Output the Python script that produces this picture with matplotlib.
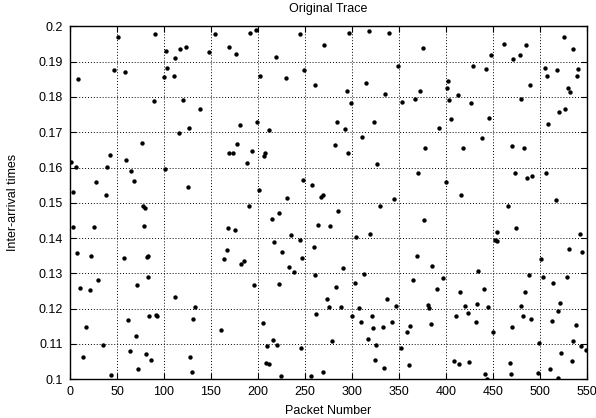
import matplotlib
matplotlib.use("Agg")
import matplotlib.pyplot as plt
import numpy as np
from matplotlib.ticker import FuncFormatter

plt.rcParams['font.family'] = ['Liberation Sans', 'DejaVu Sans']

# packet number / inter-arrival time
pkt = [
    51.2, 90.5, 102, 117, 123, 112, 103, 46.6, 58.7, 8.8, 100, 110.6, 89.4, 120.5,
    126.5, 115.5, 76.7, 42.8, 59.7, 0.7, 6.7, 39.6, 101.4, 65.4, 27.6, 68.6, 125.4,
    3.5, 38.5,
    77.4, 79.5, 2.8, 25.4, 78.4, 7.8, 22.6, 57.2, 82.7, 81.6, 83.4, 71.4, 29.7, 10.6,
    21.6, 111.7, 132.5, 61.8, 84.5, 91.5, 92.6, 130.4, 16.6, 70.7, 34.6, 13.4, 63.6,
    80.6, 86.6, 127.6, 72.4, 129.7, 43.8,
    147.5, 154.6, 169.6, 176.7, 192, 198, 218.7, 245, 201.6, 230, 249, 261, 138.3,
    181, 198.8, 211.9, 177.8, 168.9, 173.8, 193.8, 207.7, 205.9, 188.8, 247.9, 257.8,
    200.9, 231, 266.7,
    190.2, 221.9, 214.8, 167.8, 175.6, 264.2, 235, 244.3, 216.9, 166.7, 225.8, 163.9,
    259.3, 185.2, 182.4, 247.2, 233, 238, 260.7, 195.3, 222.8, 262.1, 160.7, 204.8,
    215.8, 209.8, 220.1, 246.1, 208.7, 211.2, 224, 256,
    297.2, 318.3, 339.8, 270.4, 375.7, 348.6, 295.1, 315.1, 335.2, 371.8, 298.9,
    353.2, 366.9, 284.5, 322.9, 292.3, 392.6, 282, 310.9, 296.1, 377.5, 326.1, 369.7,
    269.4, 345,
    329.9, 285.2, 376.8, 276.4, 319, 304.2, 368.7, 384.9, 290.1, 313, 396.8, 364.6,
    303.2, 283.1, 390.8, 273.2, 337, 275.3, 288.4, 307.4, 346.8, 380.3, 382.4, 300,
    321.1, 309.2, 322.2, 333.1, 342.6, 361.6, 358.5, 383.8, 317.3, 325, 279.2, 351.8,
    324, 334.2, 360.6, 268.7,
    525.9, 534.8, 461.7, 484.8, 447.9, 478.7, 471.6, 428.7, 442.6, 505.7, 517.7,
    540.8, 507.8, 539.7, 401.8, 400.7, 412.8, 489.3, 529.8, 531.6, 403.5, 426.6,
    479.8, 526.6, 520.6, 405.7, 445.4, 508.9, 438.7, 417.7, 469.9, 482.6, 473.4,
    485.8, 491.5, 506.7, 399.6, 415.6, 516.7,
    466, 474.5, 454.6, 542.9, 451.8, 453.9, 530.5, 544.7, 500.7, 434.4, 488.5, 502.8,
    528.7, 513.8, 414.9, 440.8, 483.7, 521.6, 419.9, 432.6, 445, 480.1, 518.8, 410.6,
    423.8, 481.9, 490.8, 512.4, 431.6, 537.9, 470.6, 449.6, 535.5, 498.6, 543.6,
    548.6, 522.7, 408.5, 413.5, 424.5, 467.7, 533.7, 510.6, 441.5, 443.3, 468.8,
    497.5, 519.5,
]
iat = [
    0.1969, 0.1978, 0.1930, 0.1937, 0.1942, 0.1909, 0.1882, 0.1876, 0.1872, 0.1852,
    0.1856, 0.1858, 0.1788, 0.1790, 0.1712, 0.1699, 0.1670, 0.1636, 0.1622, 0.1617,
    0.1601, 0.1602, 0.1597, 0.1589, 0.1558, 0.1562, 0.1545, 0.1530, 0.1523,
    0.1492, 0.1484, 0.1431, 0.1431, 0.1434, 0.1358, 0.1348, 0.1344, 0.1349, 0.1346,
    0.1291, 0.1268, 0.1281, 0.1258, 0.1254, 0.1233, 0.1206, 0.1169, 0.1179, 0.1181,
    0.1178, 0.1172, 0.1147, 0.1123, 0.1097, 0.1064, 0.1079, 0.1071, 0.1055, 0.1064,
    0.1030, 0.1020, 0.1012,
    0.1926, 0.1978, 0.1941, 0.1921, 0.1981, 0.1991, 0.1914, 0.1977, 0.1858, 0.1853,
    0.1877, 0.1833, 0.1767, 0.1721, 0.1728, 0.1705, 0.1667, 0.1640, 0.1640, 0.1646,
    0.1641, 0.1633, 0.1612, 0.1565, 0.1551, 0.1537, 0.1515, 0.1516,
    0.1491, 0.1471, 0.1454, 0.1428, 0.1424, 0.1438, 0.1408, 0.1395, 0.1389, 0.1366,
    0.1362, 0.1340, 0.1374, 0.1335, 0.1326, 0.1345, 0.1317, 0.1303, 0.1295, 0.1266,
    0.1269, 0.1186, 0.1140, 0.1159, 0.1112, 0.1093, 0.1098, 0.1088, 0.1047, 0.1044,
    0.1009, 0.1009,
    0.1980, 0.1986, 0.1980, 0.1947, 0.1939, 0.1888, 0.1816, 0.1839, 0.1808, 0.1818,
    0.1783, 0.1786, 0.1793, 0.1729, 0.1728, 0.1710, 0.1712, 0.1665, 0.1686, 0.1642,
    0.1655, 0.1611, 0.1585, 0.1521, 0.1511,
    0.1492, 0.1478, 0.1451, 0.1434, 0.1413, 0.1404, 0.1349, 0.1321, 0.1316, 0.1298,
    0.1288, 0.1280, 0.1273, 0.1262, 0.1255, 0.1228, 0.1227, 0.1205, 0.1206, 0.1203,
    0.1207, 0.1210, 0.1202, 0.1179, 0.1178, 0.1161, 0.1146, 0.1149, 0.1161, 0.1150,
    0.1134, 0.1157, 0.1115, 0.1098, 0.1108, 0.1088, 0.1054, 0.1032, 0.1040, 0.1020,
    0.1970, 0.1935, 0.1951, 0.1946, 0.1920, 0.1918, 0.1907, 0.1888, 0.1879, 0.1882,
    0.1877, 0.1879, 0.1858, 0.1858, 0.1844, 0.1825, 0.1806, 0.1835, 0.1826, 0.1814,
    0.1790, 0.1783, 0.1794, 0.1765, 0.1758, 0.1738, 0.1741, 0.1722, 0.1683, 0.1654,
    0.1661, 0.1655, 0.1585, 0.1569, 0.1575, 0.1585, 0.1558, 0.1521, 0.1508,
    0.1492, 0.1428, 0.1417, 0.1411, 0.1394, 0.1391, 0.1369, 0.1360, 0.1342, 0.1307,
    0.1296, 0.1289, 0.1291, 0.1274, 0.1247, 0.1255, 0.1247, 0.1216, 0.1208, 0.1213,
    0.1206, 0.1208, 0.1194, 0.1179, 0.1187, 0.1179, 0.1170, 0.1166, 0.1161, 0.1155,
    0.1149, 0.1134, 0.1109, 0.1104, 0.1093, 0.1083, 0.1075, 0.1051, 0.1042, 0.1048,
    0.1046, 0.1051, 0.1029, 0.1015, 0.1001, 0.1015, 0.1017, 0.1003,
]

xticks = list(range(0, 551, 50))
yticks = [0.1, 0.11, 0.12, 0.13, 0.14, 0.15, 0.16, 0.17, 0.18, 0.19, 0.2]

fig = plt.figure(figsize=(5.96, 4.18), dpi=100)
ax = fig.add_axes([0.1174, 0.0926, 0.8676, 0.8444])

ax.scatter(pkt, iat, s=10, c='black', linewidths=0, zorder=3)

ax.set_xlim(0, 550)
ax.set_ylim(0.1, 0.2)
ax.set_xticks(xticks)
ax.set_yticks(yticks)
ax.yaxis.set_major_formatter(FuncFormatter(lambda v, p: '%g' % round(v, 3)))
ax.tick_params(direction='in', top=True, right=True, length=4, labelsize=9, pad=5)
ax.grid(True, color='black', linestyle=(0, (1, 2)), linewidth=0.7)
for s in ax.spines.values():
    s.set_linewidth(1.0)

ax.set_title('Original Trace', fontsize=9, pad=10)
ax.set_xlabel('Packet Number', fontsize=9, labelpad=5)
ax.set_ylabel('Inter-arrival times', fontsize=9, labelpad=14)

fig.savefig('out.png', dpi=100)
